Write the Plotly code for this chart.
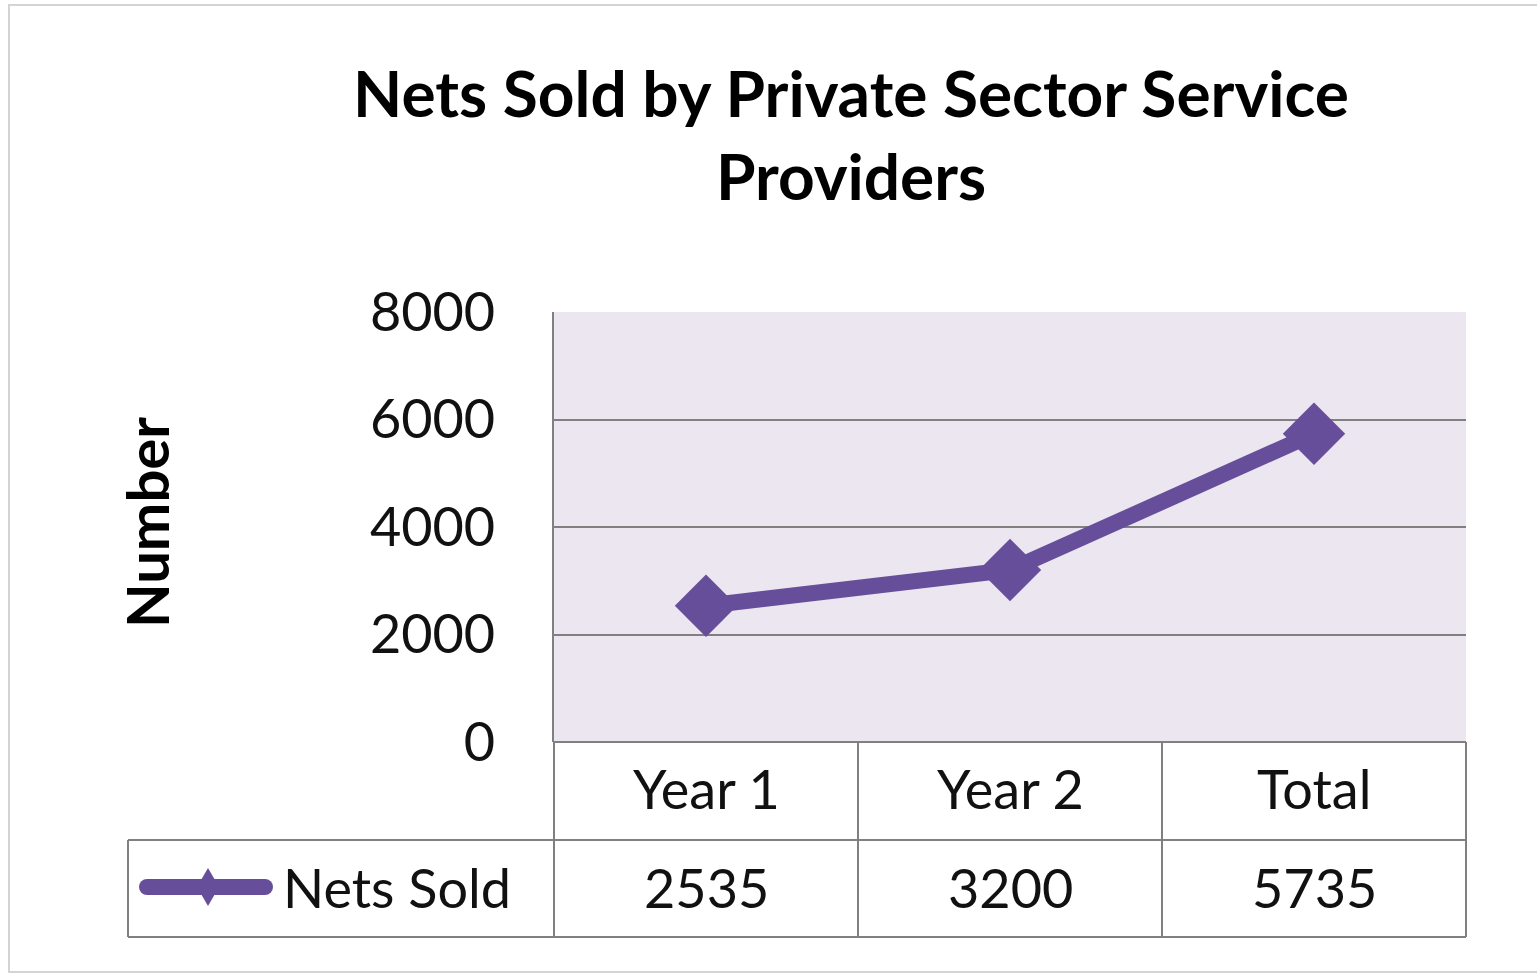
import plotly.graph_objects as go

# ---- data ----
categories = ["Year 1", "Year 2", "Total"]
nets_sold = [2535, 3200, 5735]
series_name = "Nets Sold"
y_ticks = [0, 2000, 4000, 6000, 8000]
chart_title = "Nets Sold by Private Sector Service<br>Providers"
y_title = "Number"

# ---- page geometry (pixels) ----
W, H = 1537, 974
L, R, T, B = 554, 71, 312, 232
PW = W - L - R
PH = H - T - B


def px_x(px):
    return (px - L) / PW


def px_y(py):
    return (H - B - py) / PH


purple = "#674E9B"
grid = "#808080"
frame = "#D4D4D4"
plot_bg = "#EBE6EF"
font = "Lato"
txt = "#111111"

fig = go.Figure()
fig.add_trace(go.Scatter(
    x=categories, y=nets_sold, name=series_name,
    mode="lines+markers",
    line=dict(color=purple, width=16),
    marker=dict(symbol="diamond", size=48, color=purple),
    showlegend=False, cliponaxis=False, hoverinfo="x+y",
))

shapes = []
annotations = []

# outer chart frame
shapes.append(dict(type="rect", xref="paper", yref="paper",
                   x0=px_x(9), x1=px_x(1545), y0=px_y(5), y1=px_y(972),
                   line=dict(color=frame, width=2), layer="below"))

# data table: rows under the plot area
n = len(categories)
row_top, row_mid, row_bot = 742, 840, 937
legend_left = 128
line_style = dict(color=grid, width=2)
# horizontal rules
shapes.append(dict(type="line", xref="paper", yref="paper", x0=0, x1=1,
                   y0=px_y(row_top), y1=px_y(row_top), line=line_style))
for yy in (row_mid, row_bot):
    shapes.append(dict(type="line", xref="paper", yref="paper",
                       x0=px_x(legend_left), x1=1, y0=px_y(yy), y1=px_y(yy),
                       line=line_style))
# column rules
for k in range(n + 1):
    shapes.append(dict(type="line", xref="paper", yref="paper",
                       x0=k / n, x1=k / n, y0=px_y(row_top), y1=px_y(row_bot),
                       line=line_style))
shapes.append(dict(type="line", xref="paper", yref="paper",
                   x0=px_x(legend_left), x1=px_x(legend_left),
                   y0=px_y(row_mid), y1=px_y(row_bot), line=line_style))

# table cell text
for cat, val in zip(categories, nets_sold):
    annotations.append(dict(x=cat, xref="x", y=px_y(788), yref="paper",
                            text=cat, showarrow=False, xanchor="center",
                            yanchor="middle", font=dict(family=font, size=54, color=txt)))
    annotations.append(dict(x=cat, xref="x", y=px_y(887), yref="paper",
                            text=f"{val}", showarrow=False, xanchor="center",
                            yanchor="middle", font=dict(family=font, size=54, color=txt)))

# legend key in the table
ky = 887
shapes.append(dict(type="line", xref="paper", yref="paper",
                   x0=px_x(147), x1=px_x(265), y0=px_y(ky), y1=px_y(ky),
                   line=dict(color=purple, width=16)))
for cx in (147, 265):
    shapes.append(dict(type="circle", xref="paper", yref="paper",
                       x0=px_x(cx - 8), x1=px_x(cx + 8),
                       y0=px_y(ky - 8), y1=px_y(ky + 8),
                       fillcolor=purple, line=dict(width=0)))
dx, dy = 11, 19
cxp = 208
path = (f"M {px_x(cxp)} {px_y(ky - dy)} L {px_x(cxp + dx)} {px_y(ky)} "
        f"L {px_x(cxp)} {px_y(ky + dy)} L {px_x(cxp - dx)} {px_y(ky)} Z")
shapes.append(dict(type="path", xref="paper", yref="paper", path=path,
                   fillcolor=purple, line=dict(width=0)))
annotations.append(dict(x=px_x(281), y=px_y(887), xref="paper", yref="paper",
                        text=series_name, showarrow=False, xanchor="left",
                        yanchor="middle", font=dict(family=font, size=54, color=txt)))

# vertical axis title
annotations.append(dict(x=px_x(146), y=px_y(523), xref="paper", yref="paper",
                        text=f"<b>{y_title}</b>", showarrow=False, textangle=-90,
                        xanchor="center", yanchor="middle",
                        font=dict(family=font, size=58, color="#000000")))

fig.update_layout(
    width=W, height=H,
    margin=dict(l=L, r=R, t=T, b=B, pad=0),
    paper_bgcolor="white",
    plot_bgcolor=plot_bg,
    title=dict(text=f"<b>{chart_title}</b>", x=851 / W, xanchor="center",
               y=1 - 117 / H, yanchor="middle", xref="container", yref="container",
               font=dict(family=font, size=64, color="#000000")),
    xaxis=dict(type="category", range=[-0.5, n - 0.5], showticklabels=False,
               showgrid=False, zeroline=False, showline=False, fixedrange=True),
    yaxis=dict(range=[0, 8000], tickvals=y_ticks, showgrid=True, gridcolor=grid,
               gridwidth=2, zeroline=False, showline=True, linecolor=grid,
               linewidth=2, ticks="", ticklabelstandoff=46,
               tickfont=dict(family=font, size=54, color=txt), fixedrange=True),
    shapes=shapes,
    annotations=annotations,
    showlegend=False,
)

fig.write_html("out.html")
